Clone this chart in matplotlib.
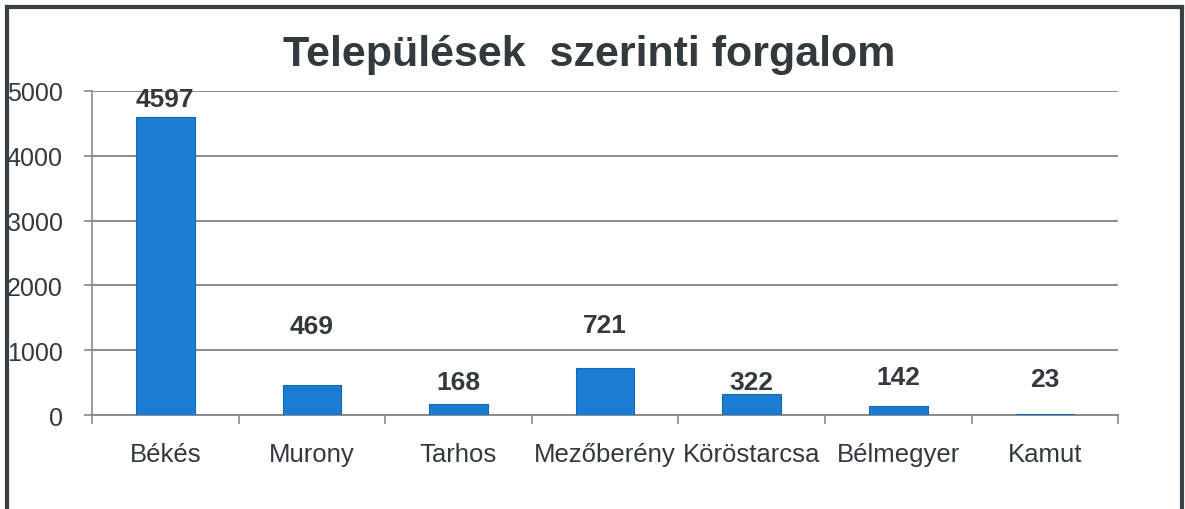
import matplotlib
matplotlib.use("Agg")
import matplotlib.pyplot as plt
from matplotlib.lines import Line2D

categories = ["Békés", "Murony", "Tarhos", "Mezőberény", "Köröstarcsa", "Bélmegyer", "Kamut"]
values = [4597, 469, 168, 721, 322, 142, 23]
y_ticks = [0, 1000, 2000, 3000, 4000, 5000]
title = "Települések  szerinti forgalom"

# label placement (layout)
label_y = [4870, 1370, 510, 1390, 510, 590, 560]

plt.rcParams['font.family'] = ['Liberation Sans', 'DejaVu Sans']
txt = "#33393c"
grid_c = "#8a8a8a"

fig = plt.figure(figsize=(11.85, 5.10), dpi=100)
ax = fig.add_axes([0.0776, 0.184, 0.866, 0.636])

x = list(range(len(categories)))
ax.bar(x, values, width=0.4, color="#1a7dd3", edgecolor="#1767b0", linewidth=0.8, zorder=3)

for xi, ly, v in zip(x, label_y, values):
    ax.text(xi, ly, str(v), ha="center", va="center", fontsize=19, fontweight="bold", color=txt)

ax.set_xlim(-0.5, len(categories) - 0.5)
ax.set_ylim(0, 5000)
ax.set_yticks(y_ticks)
ax.set_yticklabels([str(t) for t in y_ticks], fontsize=18, color=txt)
ax.set_xticks(x)
ax.set_xticklabels(categories, fontsize=18.5, color=txt)
ax.tick_params(axis="x", length=0, pad=19)
ax.tick_params(axis="y", length=6, width=1.2, color=grid_c, pad=15)

# category boundary ticks
for b in [i - 0.5 for i in range(len(categories) + 1)]:
    ax.plot([b, b], [0, -120], color=grid_c, lw=1.2, clip_on=False, zorder=2)

ax.grid(axis="y", color=grid_c, lw=1.4, zorder=0)
for s in ["top", "right"]:
    ax.spines[s].set_visible(False)
ax.spines["left"].set_color(grid_c)
ax.spines["left"].set_linewidth(1.2)
ax.spines["bottom"].set_color(grid_c)
ax.spines["bottom"].set_linewidth(1.4)

fig.text(0.497, 0.893, title, ha="center", va="center", fontsize=31, fontweight="bold", color=txt)

# scanned page frame
frame_c = "#3a3f42"
fig.add_artist(Line2D([0.006, 0.006], [0, 0.985], transform=fig.transFigure, color=frame_c, lw=3))
fig.add_artist(Line2D([0.006, 0.9975], [0.985, 0.985], transform=fig.transFigure, color=frame_c, lw=3))
fig.add_artist(Line2D([0.9975, 0.9975], [0, 0.985], transform=fig.transFigure, color=frame_c, lw=3))

fig.savefig("out.png", dpi=100)
